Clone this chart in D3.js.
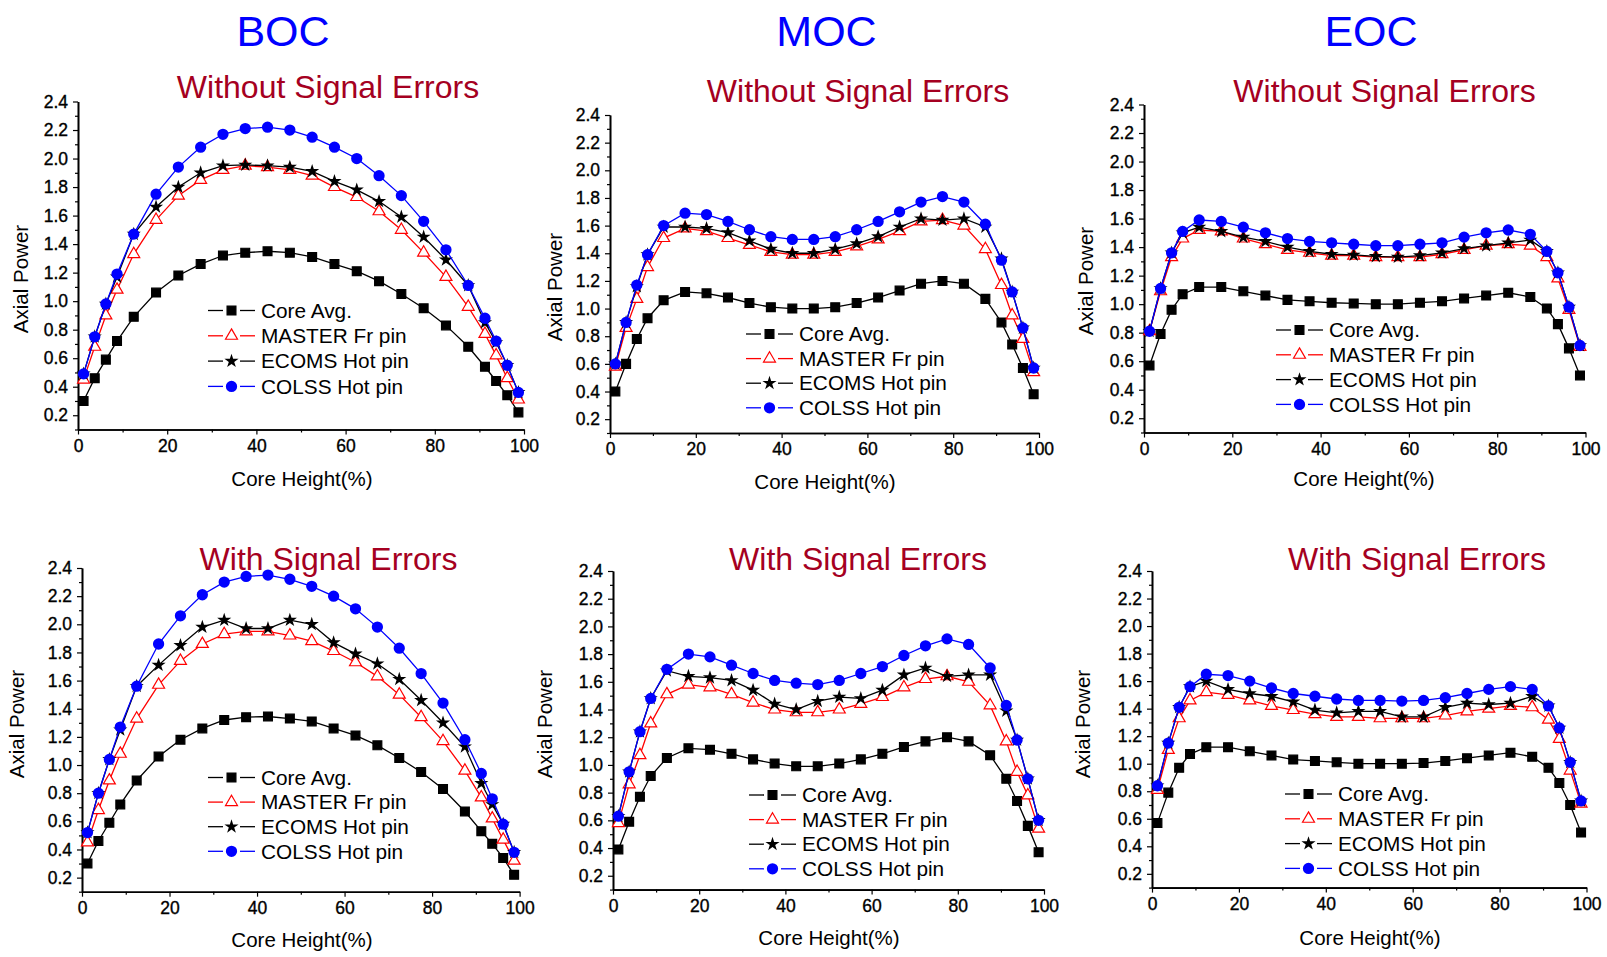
<!DOCTYPE html>
<html>
<head>
<meta charset="utf-8">
<script src="https://cdn.jsdelivr.net/npm/d3@7"></script>
<style>
  body { margin: 0; background: #fff; }
  svg { display: block; }
  text { font-family: "Liberation Sans", Arial, sans-serif; }
</style>
</head>
<body>
<svg id="chart" width="1607" height="957"></svg>
<script>
////////// Data /////////////
const heights = [1.25, 3.75, 6.25, 8.75, 12.5, 17.5, 22.5, 27.5, 32.5, 37.5, 42.5, 47.5,
                 52.5, 57.5, 62.5, 67.5, 72.5, 77.5, 82.5, 87.5, 91.25, 93.75, 96.25, 98.75];

const seriesNames = ["Core Avg.", "MASTER Fr pin", "ECOMS Hot pin", "COLSS Hot pin"];
const cycleNames = ["BOC", "MOC", "EOC"];
const caseNames = ["Without Signal Errors", "With Signal Errors"];
const xTicks = [0, 20, 40, 60, 80, 100];
const xMinor = [10, 30, 50, 70, 90];
const yTicks = [0.2, 0.4, 0.6, 0.8, 1.0, 1.2, 1.4, 1.6, 1.8, 2.0, 2.2, 2.4];
const yMinor = [0.1, 0.3, 0.5, 0.7, 0.9, 1.1, 1.3, 1.5, 1.7, 1.9, 2.1, 2.3];

// BOC, without signal errors
const bocCleanCore   = [0.30,0.46,0.59,0.72,0.89,1.06,1.18,1.26,1.32,1.34,1.35,1.34,1.31,1.26,1.21,1.14,1.05,0.95,0.83,0.68,0.54,0.44,0.34,0.22];
const bocCleanMaster = [0.45,0.68,0.90,1.08,1.33,1.57,1.74,1.85,1.92,1.95,1.94,1.92,1.88,1.80,1.73,1.63,1.50,1.34,1.17,0.96,0.77,0.62,0.46,0.31];
const bocCleanEcoms  = [0.49,0.75,0.98,1.17,1.47,1.66,1.80,1.90,1.95,1.955,1.95,1.94,1.91,1.84,1.78,1.70,1.59,1.45,1.29,1.11,0.85,0.71,0.55,0.36];
const bocCleanColss  = [0.49,0.75,0.98,1.19,1.47,1.75,1.94,2.08,2.17,2.21,2.22,2.20,2.15,2.08,2.00,1.88,1.74,1.56,1.36,1.11,0.88,0.72,0.55,0.36];

// MOC, without signal errors
const mocCleanCore   = [0.40,0.60,0.78,0.93,1.06,1.12,1.11,1.08,1.04,1.01,1.00,1.00,1.01,1.04,1.08,1.13,1.18,1.20,1.18,1.07,0.90,0.74,0.57,0.38];
const mocCleanMaster = [0.58,0.86,1.07,1.30,1.51,1.58,1.56,1.51,1.46,1.41,1.39,1.39,1.41,1.45,1.50,1.56,1.63,1.64,1.60,1.43,1.17,0.95,0.78,0.54];
const mocCleanEcoms  = [0.60,0.90,1.16,1.39,1.59,1.59,1.58,1.55,1.49,1.43,1.40,1.40,1.43,1.47,1.52,1.59,1.65,1.64,1.65,1.59,1.36,1.12,0.86,0.57];
const mocCleanColss  = [0.60,0.90,1.17,1.39,1.60,1.69,1.68,1.63,1.57,1.52,1.50,1.50,1.52,1.57,1.63,1.70,1.77,1.81,1.77,1.61,1.35,1.12,0.86,0.57];

// EOC, without signal errors
const eocCleanCore   = [0.57,0.79,0.96,1.07,1.12,1.12,1.09,1.06,1.03,1.02,1.01,1.005,1.00,1.00,1.01,1.02,1.04,1.06,1.08,1.05,0.97,0.86,0.69,0.50];
const eocCleanMaster = [0.81,1.09,1.33,1.46,1.52,1.51,1.46,1.42,1.38,1.36,1.34,1.34,1.33,1.33,1.33,1.35,1.38,1.41,1.42,1.41,1.33,1.18,0.96,0.70];
const eocCleanEcoms  = [0.81,1.11,1.36,1.50,1.54,1.51,1.47,1.44,1.40,1.37,1.35,1.345,1.335,1.33,1.34,1.36,1.39,1.41,1.43,1.45,1.37,1.22,0.98,0.71];
const eocCleanColss  = [0.81,1.11,1.36,1.51,1.59,1.58,1.54,1.50,1.46,1.44,1.43,1.42,1.41,1.41,1.42,1.43,1.47,1.50,1.52,1.49,1.37,1.22,0.98,0.71];

// BOC, with signal errors
const bocErrCore   = [0.30,0.46,0.59,0.72,0.89,1.06,1.18,1.26,1.32,1.34,1.345,1.33,1.31,1.26,1.21,1.14,1.05,0.95,0.83,0.67,0.53,0.44,0.34,0.22];
const bocErrMaster = [0.45,0.68,0.89,1.08,1.33,1.57,1.74,1.86,1.93,1.95,1.95,1.92,1.88,1.81,1.73,1.63,1.50,1.34,1.17,0.96,0.77,0.62,0.47,0.32];
const bocErrEcoms  = [0.52,0.80,1.04,1.25,1.56,1.71,1.85,1.98,2.03,1.97,1.97,2.03,2.00,1.87,1.79,1.72,1.61,1.46,1.30,1.13,0.87,0.72,0.58,0.38];
const bocErrColss  = [0.52,0.80,1.04,1.27,1.56,1.86,2.06,2.21,2.30,2.34,2.35,2.32,2.27,2.20,2.11,1.98,1.83,1.65,1.44,1.18,0.94,0.76,0.58,0.38];

// MOC, with signal errors
const mocErrCore   = [0.39,0.59,0.77,0.92,1.05,1.12,1.11,1.08,1.04,1.01,0.99,0.99,1.01,1.04,1.08,1.13,1.17,1.20,1.17,1.07,0.90,0.74,0.56,0.37];
const mocErrMaster = [0.58,0.86,1.07,1.30,1.51,1.58,1.56,1.51,1.45,1.40,1.38,1.38,1.40,1.44,1.49,1.56,1.62,1.64,1.60,1.43,1.17,0.95,0.78,0.54];
const mocErrEcoms  = [0.63,0.95,1.24,1.48,1.68,1.64,1.63,1.61,1.54,1.44,1.40,1.46,1.49,1.48,1.54,1.65,1.70,1.64,1.65,1.65,1.39,1.18,0.90,0.60];
const mocErrColss  = [0.63,0.95,1.24,1.48,1.69,1.80,1.78,1.72,1.66,1.61,1.59,1.58,1.61,1.66,1.71,1.79,1.86,1.91,1.87,1.70,1.43,1.18,0.90,0.60];

// EOC, with signal errors
const eocErrCore   = [0.57,0.79,0.97,1.07,1.12,1.12,1.09,1.06,1.03,1.02,1.01,1.00,1.00,1.00,1.005,1.02,1.04,1.06,1.08,1.05,0.97,0.86,0.70,0.50];
const eocErrMaster = [0.81,1.10,1.33,1.46,1.52,1.50,1.46,1.42,1.39,1.36,1.34,1.34,1.33,1.33,1.33,1.35,1.38,1.40,1.42,1.41,1.32,1.18,0.95,0.71];
const eocErrEcoms  = [0.84,1.15,1.41,1.56,1.60,1.54,1.51,1.49,1.45,1.39,1.37,1.38,1.38,1.34,1.34,1.41,1.44,1.43,1.44,1.49,1.42,1.26,1.01,0.73];
const eocErrColss  = [0.84,1.15,1.41,1.56,1.65,1.64,1.60,1.55,1.51,1.49,1.47,1.46,1.46,1.455,1.46,1.48,1.51,1.54,1.56,1.54,1.42,1.26,1.01,0.73];

////////// Layout of the six panels /////////////
const panels = [
  { cycle: 0, row: 0, left: 78,   right: 524,  top: 101.5, bottom: 429.5,
    series: [bocCleanCore, bocCleanMaster, bocCleanEcoms, bocCleanColss],
    title: [328, 98],  legend: [208, 310.5], gap: 25.3, xLab: [302, 486], yLab: [20.5, 279] },
  { cycle: 1, row: 0, left: 610,  right: 1039, top: 115,   bottom: 433,
    series: [mocCleanCore, mocCleanMaster, mocCleanEcoms, mocCleanColss],
    title: [858, 102], legend: [746, 334],  gap: 24.6, xLab: [825, 489], yLab: [554.5, 287] },
  { cycle: 2, row: 0, left: 1144, right: 1585.5, top: 104.5, bottom: 432.5,
    series: [eocCleanCore, eocCleanMaster, eocCleanEcoms, eocCleanColss],
    title: [1384.5, 102], legend: [1276, 330], gap: 24.8, xLab: [1364, 486], yLab: [1086, 281] },
  { cycle: 0, row: 1, left: 82,   right: 519.6, top: 568,  bottom: 891.7,
    series: [bocErrCore, bocErrMaster, bocErrEcoms, bocErrColss],
    title: [328.5, 570], legend: [208, 777.5], gap: 24.6, xLab: [302, 947], yLab: [16.4, 724] },
  { cycle: 1, row: 1, left: 613,  right: 1044, top: 571,   bottom: 889.6,
    series: [mocErrCore, mocErrMaster, mocErrEcoms, mocErrColss],
    title: [858, 570], legend: [749, 795], gap: 24.6, xLab: [829, 945], yLab: [545, 724] },
  { cycle: 2, row: 1, left: 1152, right: 1586.5, top: 571, bottom: 887.6,
    series: [eocErrCore, eocErrMaster, eocErrEcoms, eocErrColss],
    title: [1417, 570], legend: [1285, 794], gap: 24.8, xLab: [1370, 945], yLab: [1083, 724] }
];

const cycleTitlePos = [[283, 46], [826.5, 46], [1371, 46]];

// series styles: line colour, marker shape, marker fill, marker stroke
const styles = [
  { line: "#000", symbol: d3.symbolSquare,   size: 78, fill: "#000", stroke: "#000" },
  { line: "#ff0000", symbol: d3.symbolTriangle, size: 62, fill: "#fff", stroke: "#ff0000" },
  { line: "#000", symbol: d3.symbolStar,     size: 62, fill: "#000", stroke: "none" },
  { line: "#0000ff", symbol: d3.symbolCircle,   size: 100, fill: "#0000ff", stroke: "none" }
];

const svg = d3.select("#chart");
const fmt = d3.format(".1f");

cycleNames.forEach((name, i) => {
  svg.append("text")
    .attr("x", cycleTitlePos[i][0]).attr("y", cycleTitlePos[i][1])
    .attr("text-anchor", "middle")
    .attr("font-size", 43)
    .attr("fill", "#0000ff")
    .text(name);
});

panels.forEach(p => drawPanel(p));

function drawPanel(p) {
  const x = d3.scaleLinear().domain([0, 100]).range([p.left, p.right]);
  const y = d3.scaleLinear().domain([0.1, 2.4]).range([p.bottom, p.top]);
  const g = svg.append("g");

  // subtitle
  g.append("text")
    .attr("x", p.title[0]).attr("y", p.title[1])
    .attr("text-anchor", "middle")
    .attr("font-size", 32)
    .attr("fill", "#a50021")
    .text(caseNames[p.row]);

  // axes
  const yAxis = g.append("g").attr("transform", `translate(${p.left},0)`)
    .call(d3.axisLeft(y).tickValues(yTicks).tickFormat(fmt).tickSize(5).tickSizeOuter(0).tickPadding(5));
  g.append("g").attr("transform", `translate(${p.left},0)`)
    .call(d3.axisLeft(y).tickValues(yMinor).tickFormat("").tickSize(3).tickSizeOuter(0));
  const xAxis = g.append("g").attr("transform", `translate(0,${p.bottom})`)
    .call(d3.axisBottom(x).tickValues(xTicks).tickSize(5).tickSizeOuter(0).tickPadding(5));
  g.append("g").attr("transform", `translate(0,${p.bottom})`)
    .call(d3.axisBottom(x).tickValues(xMinor).tickFormat("").tickSize(3).tickSizeOuter(0));

  g.selectAll(".domain").attr("stroke", "#000").attr("stroke-width", 1.6);
  g.selectAll(".tick line").attr("stroke", "#000").attr("stroke-width", 1.2);
  [yAxis, xAxis].forEach(a => a.selectAll("text")
    .attr("font-size", 17.5)
    .attr("fill", "#000")
    .attr("stroke", "#000")
    .attr("stroke-width", 0.35)
    .attr("font-family", "'Liberation Sans', Arial, sans-serif"));

  // axis titles
  g.append("text")
    .attr("x", p.xLab[0]).attr("y", p.xLab[1])
    .attr("text-anchor", "middle")
    .attr("font-size", 20.5)
    .text("Core Height(%)");
  g.append("text")
    .attr("transform", `translate(${p.yLab[0]},${p.yLab[1]}) rotate(-90)`)
    .attr("text-anchor", "middle")
    .attr("dy", "0.35em")
    .attr("font-size", 20.5)
    .text("Axial Power");

  // series
  const line = d3.line().x((d, i) => x(heights[i])).y(d => y(d));
  p.series.forEach((vals, s) => {
    const st = styles[s];
    g.append("path")
      .datum(vals)
      .attr("fill", "none")
      .attr("stroke", st.line)
      .attr("stroke-width", 1.3)
      .attr("d", line);
    g.selectAll(null)
      .data(vals)
      .enter().append("path")
      .attr("transform", (d, i) => `translate(${x(heights[i])},${y(d)})`)
      .attr("d", d3.symbol().type(st.symbol).size(st.size))
      .attr("fill", st.fill)
      .attr("stroke", st.stroke)
      .attr("stroke-width", 1.2);
  });

  // legend
  const lg = g.append("g").attr("transform", `translate(${p.legend[0]},${p.legend[1]})`);
  seriesNames.forEach((name, s) => {
    const st = styles[s];
    const row = lg.append("g").attr("transform", `translate(0,${s * p.gap})`);
    row.append("line").attr("x1", 0).attr("x2", 15).attr("stroke", st.line).attr("stroke-width", 1.3);
    row.append("line").attr("x1", 32).attr("x2", 47).attr("stroke", st.line).attr("stroke-width", 1.3);
    row.append("path")
      .attr("transform", "translate(23.5,0)")
      .attr("d", d3.symbol().type(st.symbol).size(st.size))
      .attr("fill", st.fill)
      .attr("stroke", st.stroke)
      .attr("stroke-width", 1.2);
    row.append("text")
      .attr("x", 53).attr("dy", "0.35em")
      .attr("font-size", 20.8)
      .text(name);
  });
}
</script>
</body>
</html>
